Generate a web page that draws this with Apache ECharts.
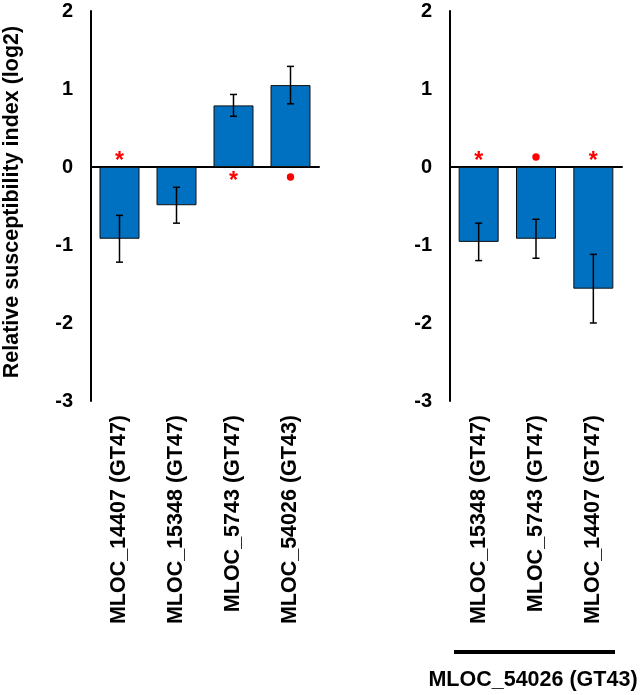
<!DOCTYPE html>
<html>
<head>
<meta charset="utf-8">
<script src="https://cdn.jsdelivr.net/npm/echarts@6/dist/echarts.min.js"></script>
<style>
html,body{margin:0;padding:0;background:#fff;}
#chart{width:640px;height:695px;}
</style>
</head>
<body>
<div id="chart"></div>
<script>
// ---- data ----
const leftCategories = ['MLOC_14407 (GT47)', 'MLOC_15348 (GT47)', 'MLOC_5743 (GT47)', 'MLOC_54026 (GT43)'];
const leftValues = [-0.92, -0.49, 0.79, 1.05];
const leftErrors = [0.30, 0.23, 0.14, 0.24];
const leftMarks = ['*', '', '*', 'dot'];

const rightCategories = ['MLOC_15348 (GT47)', 'MLOC_5743 (GT47)', 'MLOC_14407 (GT47)'];
const rightValues = [-0.96, -0.92, -1.56];
const rightErrors = [0.24, 0.25, 0.44];
const rightMarks = ['*', 'dot', '*'];

const yTicks = [-3, -2, -1, 0, 1, 2];
const yTitle = 'Relative susceptibility index (log2)';
const groupLabel = 'MLOC_54026 (GT43)';

// ---- styles ----
const FONT = "'Liberation Sans', Arial, sans-serif";
const BLUE = '#0070C0';
const RED = '#FF0000';

const chart = echarts.init(document.getElementById('chart'), null, {renderer: 'canvas'});

function errRender(params, api) {
  const i = api.value(0), v = api.value(1), e = api.value(2);
  const top = api.coord([i, v + e]);
  const bot = api.coord([i, v - e]);
  const hw = 3.5;
  const st = {stroke: '#000', lineWidth: 1.5};
  return {type: 'group', children: [
    {type: 'line', shape: {x1: top[0], y1: top[1], x2: bot[0], y2: bot[1]}, style: st},
    {type: 'line', shape: {x1: top[0] - hw, y1: top[1], x2: top[0] + hw, y2: top[1]}, style: st},
    {type: 'line', shape: {x1: bot[0] - hw, y1: bot[1], x2: bot[0] + hw, y2: bot[1]}, style: st}
  ]};
}

function makeMarkRender(marks) {
  return function (params, api) {
    const i = api.value(0), v = api.value(1);
    const m = marks[i];
    if (!m) return null;
    const p = api.coord([i, 0]);
    const dir = v < 0 ? -1 : 1; // mark sits on opposite side of zero
    if (m === 'dot') {
      return {type: 'circle', shape: {cx: p[0], cy: p[1] + dir * 10, r: 3.7}, style: {fill: RED}};
    }
    return {type: 'text', x: p[0], y: p[1] + dir * 10 + 5,
      style: {text: m, fill: RED, font: 'bold 23px ' + FONT, align: 'center', verticalAlign: 'middle'}};
  };
}

const yAxisBase = {
  type: 'value', min: -3, max: 2, interval: 1,
  axisLine: {show: true, lineStyle: {color: '#000', width: 2}},
  axisTick: {show: false},
  splitLine: {show: false},
  axisLabel: {color: '#000', fontFamily: FONT, fontWeight: 'bold', fontSize: 20, margin: 18,
    formatter: v => yTicks.includes(v) ? String(v) : ''}
};

const xZero = (gi, cats) => ({
  type: 'category', gridIndex: gi, data: cats, position: 'top',
  axisLine: {show: true, onZero: true, lineStyle: {color: '#000', width: 2}},
  axisTick: {show: false}, axisLabel: {show: false}, splitLine: {show: false}
});
const xLab = (gi, cats) => ({
  type: 'category', gridIndex: gi, data: cats, position: 'bottom',
  axisLine: {show: false, onZero: false}, axisTick: {show: false},
  axisLabel: {rotate: 90, color: '#000', fontFamily: FONT, fontWeight: 'bold', fontSize: 21.5, margin: 14, interval: 0}
});

const option = {
  backgroundColor: '#fff',
  animation: false,
  grid: [
    {left: 91, top: 11, width: 228, height: 390},
    {left: 450, top: 11, width: 172, height: 390}
  ],
  xAxis: [xZero(0, leftCategories), xLab(0, leftCategories), xZero(1, rightCategories), xLab(1, rightCategories)],
  yAxis: [
    Object.assign({}, yAxisBase, {gridIndex: 0, name: yTitle, nameLocation: 'middle', nameRotate: 90, nameGap: 68,
      nameTextStyle: {color: '#000', fontFamily: FONT, fontWeight: 'bold', fontSize: 21.5, padding: [0, 0, 0, 8]}}),
    Object.assign({}, yAxisBase, {gridIndex: 1})
  ],
  series: [
    {type: 'bar', xAxisIndex: 0, yAxisIndex: 0, data: leftValues, barWidth: 40,
      itemStyle: {color: BLUE, borderColor: '#111', borderWidth: 1}},
    {type: 'custom', xAxisIndex: 0, yAxisIndex: 0, renderItem: errRender, z: 5,
      data: leftValues.map((v, i) => [i, v, leftErrors[i]])},
    {type: 'custom', xAxisIndex: 0, yAxisIndex: 0, renderItem: makeMarkRender(leftMarks), z: 6,
      data: leftValues.map((v, i) => [i, v])},
    {type: 'bar', xAxisIndex: 2, yAxisIndex: 1, data: rightValues, barWidth: 40,
      itemStyle: {color: BLUE, borderColor: '#111', borderWidth: 1}},
    {type: 'custom', xAxisIndex: 2, yAxisIndex: 1, renderItem: errRender, z: 5,
      data: rightValues.map((v, i) => [i, v, rightErrors[i]])},
    {type: 'custom', xAxisIndex: 2, yAxisIndex: 1, renderItem: makeMarkRender(rightMarks), z: 6,
      data: rightValues.map((v, i) => [i, v])}
  ],
  graphic: [
    {type: 'line', shape: {x1: 454, y1: 652, x2: 615, y2: 652}, style: {stroke: '#000', lineWidth: 4}},
    {type: 'text', x: 533, y: 680, style: {text: groupLabel, fill: '#000', font: 'bold 21.5px ' + FONT, align: 'center', verticalAlign: 'middle'}}
  ]
};
chart.setOption(option);
</script>
</body>
</html>
